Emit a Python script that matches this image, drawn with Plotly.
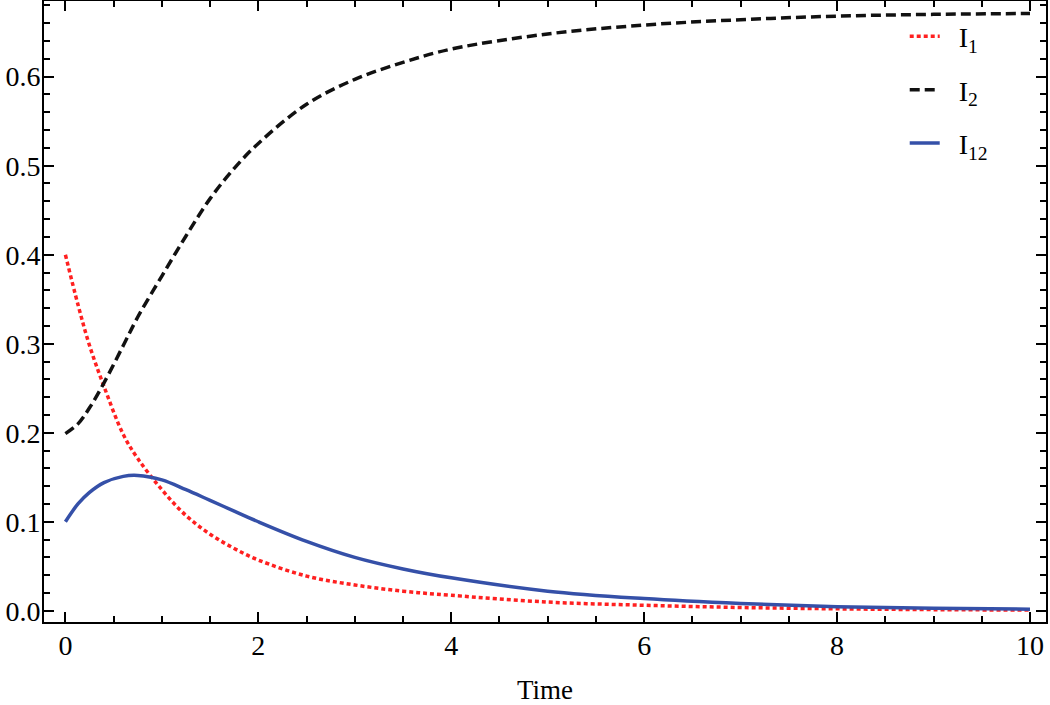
import plotly.graph_objects as go

time = [0, 0.13, 0.25, 0.4, 0.6, 0.75, 1.0, 1.25, 1.5, 1.75, 2.0, 2.5, 3.0,
        3.5, 4.0, 5.0, 6.0, 7.0, 8.0, 9.0, 10.0]
i1 = [0.400, 0.344, 0.298, 0.252, 0.198, 0.171, 0.136, 0.107, 0.086, 0.070,
      0.057, 0.039, 0.029, 0.022, 0.0174, 0.0098, 0.0062, 0.0037, 0.0022,
      0.0013, 0.0008]
i2 = [0.199, 0.210, 0.228, 0.256, 0.298, 0.330, 0.376, 0.421, 0.463, 0.497,
      0.525, 0.569, 0.597, 0.616, 0.631, 0.648, 0.658, 0.664, 0.668, 0.670,
      0.671]
i12 = [0.100, 0.120, 0.133, 0.144, 0.151, 0.152, 0.147, 0.136, 0.124, 0.112,
       0.100, 0.078, 0.060, 0.047, 0.037, 0.022, 0.0137, 0.0082, 0.0045,
       0.0028, 0.0018]

x_ticks = [0, 2, 4, 6, 8, 10]
y_ticks = [0.0, 0.1, 0.2, 0.3, 0.4, 0.5, 0.6]
y_tick_text = ["0.0", "0.1", "0.2", "0.3", "0.4", "0.5", "0.6"]

FONT = "Liberation Serif"
NB = "\u00a0\u00a0"

fig = go.Figure()
fig.add_trace(go.Scatter(x=time, y=i1, mode="lines", name=NB + "I<sub>1</sub>",
                         legendgroup="a", line=dict(color="#ff2020", width=3.5, dash="4px,3px", shape="spline")))
fig.add_trace(go.Scatter(x=time, y=i2, mode="lines", name=NB + "I<sub>2</sub>",
                         legendgroup="b", line=dict(color="#111111", width=3.5, dash="10px,5px", shape="spline")))
fig.add_trace(go.Scatter(x=time, y=i12, mode="lines", name=NB + "I<sub>12</sub>",
                         legendgroup="c", line=dict(color="#3550a8", width=3.5, shape="spline")))

axis_common = dict(
    showline=True, linecolor="black", linewidth=2, mirror="allticks",
    ticks="inside", tickcolor="black", tickwidth=2, ticklen=10,
    showgrid=False, zeroline=False, automargin=False,
    tickfont=dict(family=FONT, size=28, color="black"),
)

fig.update_xaxes(**axis_common, range=[-0.222, 10.166], tickvals=x_ticks,
                 minor=dict(dtick=0.5, ticks="inside", ticklen=6, tickwidth=2, tickcolor="black", showgrid=False),
                 title=dict(text="Time", font=dict(family=FONT, size=27, color="black"), standoff=23),
                 ticklabelstandoff=-3)
fig.update_yaxes(**axis_common, range=[-0.0126, 0.685], tickvals=y_ticks, ticktext=y_tick_text,
                 minor=dict(dtick=0.02, ticks="inside", ticklen=6, tickwidth=2, tickcolor="black", showgrid=False),
                 ticklabelstandoff=-4)

fig.update_layout(
    width=1050, height=705,
    margin=dict(l=44, r=4, t=1, b=83),
    paper_bgcolor="white", plot_bgcolor="white",
    font=dict(family=FONT, color="black"),
    legend=dict(x=0.859, y=0.983, xanchor="left", yanchor="top",
                font=dict(family=FONT, size=28, color="black"),
                tracegroupgap=14, traceorder="grouped",
                bgcolor="rgba(0,0,0,0)"),
)

fig.write_html("out.html", config={"displayModeBar": False},
               post_script="document.body.style.margin='0';document.body.style.padding='0';")
